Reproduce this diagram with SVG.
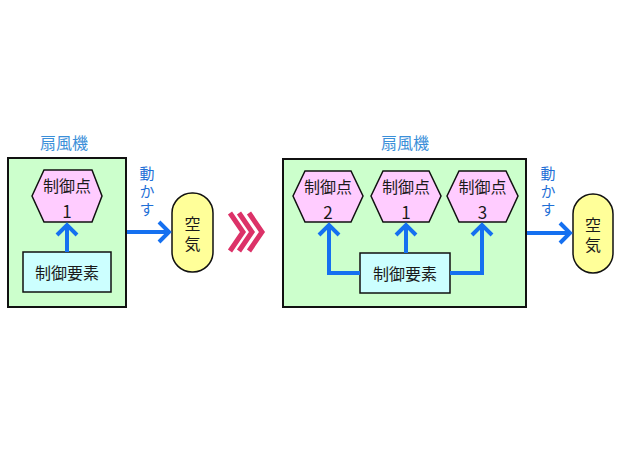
<svg xmlns="http://www.w3.org/2000/svg" width="620" height="465" viewBox="0 0 620 465">
<style>
text{font-family:"Noto Sans CJK JP","Noto Sans",sans-serif;text-anchor:middle;dominant-baseline:central}
.v{writing-mode:vertical-rl;dominant-baseline:auto}
.title{font-size:16px;fill:#3b8fd9}
.lbl{font-size:15px;fill:#1f6fd6;letter-spacing:3px}
.t{font-size:16px;fill:#1a1a1a}
.a{font-size:16px;fill:#1a1a1a;letter-spacing:4px}
.h{font-size:16px;fill:#1a1a1a}
.n{font-size:17px}
.box{fill:#ccffcc;stroke:#111;stroke-width:2}
.hex{fill:#ffccff;stroke:#111;stroke-width:1.5}
.el{fill:#ccffff;stroke:#111;stroke-width:1.5}
.air{fill:#ffff99;stroke:#111;stroke-width:1.5}
.c{fill:none;stroke:#1570f0;stroke-width:4;stroke-linejoin:miter}
.chev{fill:none;stroke:#dc3268;stroke-width:5;stroke-linejoin:miter}
</style>
<defs>
<marker id="ah" markerUnits="userSpaceOnUse" markerWidth="20" markerHeight="24" refX="14" refY="12" orient="auto" viewBox="0 0 20 24">
<polyline points="4,2 14,12 4,22" fill="none" stroke="#1570f0" stroke-width="4"/>
</marker>
</defs>
<rect width="620" height="465" fill="#ffffff"/>

<g id="fan1">
<text class="title" x="64" y="142">扇風機</text>
<rect class="box" x="8" y="158" width="118" height="149"/>
</g>
<g id="cp1a">
<polygon class="hex" points="32,196 44,170 92,170 102,196 92,222 44,222"/>
<text class="h" x="67" y="185">制御点<tspan class="n" x="67" y="209.5">1</tspan></text>
</g>
<g id="ctrl1">
<rect class="el" x="23" y="252" width="88" height="40"/>
<text class="t" x="67" y="272">制御要素</text>
</g>
<g id="air1">
<rect class="air" x="172" y="193" width="41" height="79" rx="20" ry="20"/>
<text class="a v" x="192.5" y="236">空気</text>
</g>
<g id="move1">
<text class="lbl v" x="147" y="193">動かす</text>
</g>

<g id="chevrons">
<polyline class="chev" points="230,213 243,232 230,251"/>
<polyline class="chev" points="239,213 252,232 239,251"/>
<polyline class="chev" points="249,213 262,232 249,251"/>
</g>

<g id="fan2">
<text class="title" x="405" y="142">扇風機</text>
<rect class="box" x="283" y="159" width="243" height="148"/>
</g>
<g id="cp2">
<polygon class="hex" points="293,196 305,171 351,171 363,196 351,222 305,222"/>
<text class="h" x="328" y="186">制御点<tspan class="n" x="328" y="210.5">2</tspan></text>
</g>
<g id="cp1b">
<polygon class="hex" points="371,196 383,171 429,171 441,196 429,222 383,222"/>
<text class="h" x="406" y="186">制御点<tspan class="n" x="406" y="210.5">1</tspan></text>
</g>
<g id="cp3">
<polygon class="hex" points="447,196 459,171 506,171 518,196 506,222 459,222"/>
<text class="h" x="482.5" y="186">制御点<tspan class="n" x="482.5" y="210.5">3</tspan></text>
</g>
<g id="ctrl2">
<rect class="el" x="360" y="253" width="90" height="40"/>
<text class="t" x="405" y="273">制御要素</text>
</g>
<g id="air2">
<rect class="air" x="573" y="194" width="40" height="79" rx="20" ry="20"/>
<text class="a v" x="593" y="237">空気</text>
</g>
<g id="move2">
<text class="lbl v" x="548" y="193">動かす</text>
</g>

<g id="connectors">
<path class="c" d="M67,252 V225" marker-end="url(#ah)"/>
<path class="c" d="M127,232 H169" marker-end="url(#ah)"/>
<path class="c" d="M360,273 H329 V225" marker-end="url(#ah)"/>
<path class="c" d="M406,253 V225" marker-end="url(#ah)"/>
<path class="c" d="M450,273 H482 V225" marker-end="url(#ah)"/>
<path class="c" d="M527,233 H570" marker-end="url(#ah)"/>
</g>
</svg>
